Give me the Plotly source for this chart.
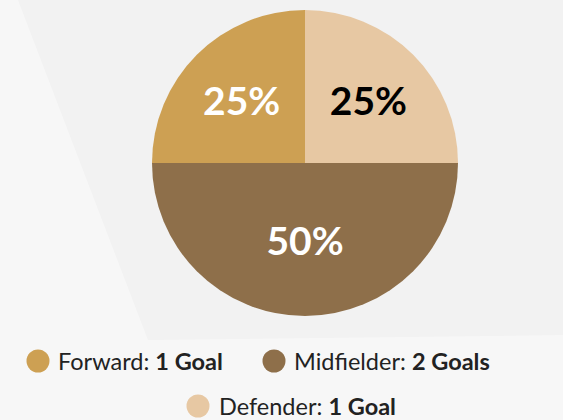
import plotly.graph_objects as go

# Data
positions = ["Forward", "Midfielder", "Defender"]
goals = [1, 2, 1]
colors = ["#CDA053", "#8E6F4A", "#E7C8A3"]
label_colors = ["#FFFFFF", "#FFFFFF", "#000000"]

W, H = 563, 420
FONT = "Lato"


def px(x, y):
    return f"{x / W} {1 - y / H}"


fig = go.Figure()
fig.add_trace(go.Pie(
    labels=positions,
    values=goals,
    sort=False,
    direction="counterclockwise",
    rotation=-90,
    marker=dict(colors=colors, line=dict(width=0)),
    textinfo="percent",
    texttemplate="%{percent:.0%}",
    textposition="inside",
    insidetextorientation="horizontal",
    textfont=dict(family=FONT, size=39, color=label_colors, weight="bold"),
    domain=dict(x=[152 / W, 458 / W], y=[1 - 316 / H, 1 - 10 / H]),
    showlegend=False,
    hoverinfo="label+value+percent",
))

# custom legend (circles + text) built from the data
legend_layout = [  # (circle centre x, text start x, row y) in pixels
    (38, 56, 361),
    (274, 292, 361),
    (198, 217, 406),
]
shapes = [
    # faint lighter facets in the background
    dict(type="path", xref="paper", yref="paper", layer="below",
         path=(f"M {px(0, 0)} L {px(18, 0)} L {px(148, 340)} L {px(563, 335)} "
               f"L {px(563, 420)} L {px(0, 420)} Z"),
         fillcolor="rgba(255,255,255,0.4)", line=dict(width=0)),
]
annotations = []
r = 11.5
for name, g, col, (cx, tx, cy) in zip(positions, goals, colors, legend_layout):
    shapes.append(dict(type="circle", xref="paper", yref="paper",
                       x0=(cx - r) / W, x1=(cx + r) / W,
                       y0=1 - (cy + r) / H, y1=1 - (cy - r) / H,
                       fillcolor=col, line=dict(width=0), layer="above"))
    unit = "Goal" if g == 1 else "Goals"
    annotations.append(dict(
        x=tx / W, y=1 - cy / H, xref="paper", yref="paper",
        xanchor="left", yanchor="middle", showarrow=False,
        text=f"{name}: <b>{g} {unit}</b>",
        font=dict(family=FONT, size=23.5, color="#222222"),
    ))

fig.update_layout(
    width=W, height=H,
    margin=dict(l=0, r=0, t=0, b=0),
    paper_bgcolor="#F2F2F2",
    plot_bgcolor="#F2F2F2",
    shapes=shapes,
    annotations=annotations,
    showlegend=False,
)

fig.write_html(
    "out.html",
    config={"displayModeBar": False},
    post_script="document.body.style.margin='0';document.body.style.padding='0';",
)
